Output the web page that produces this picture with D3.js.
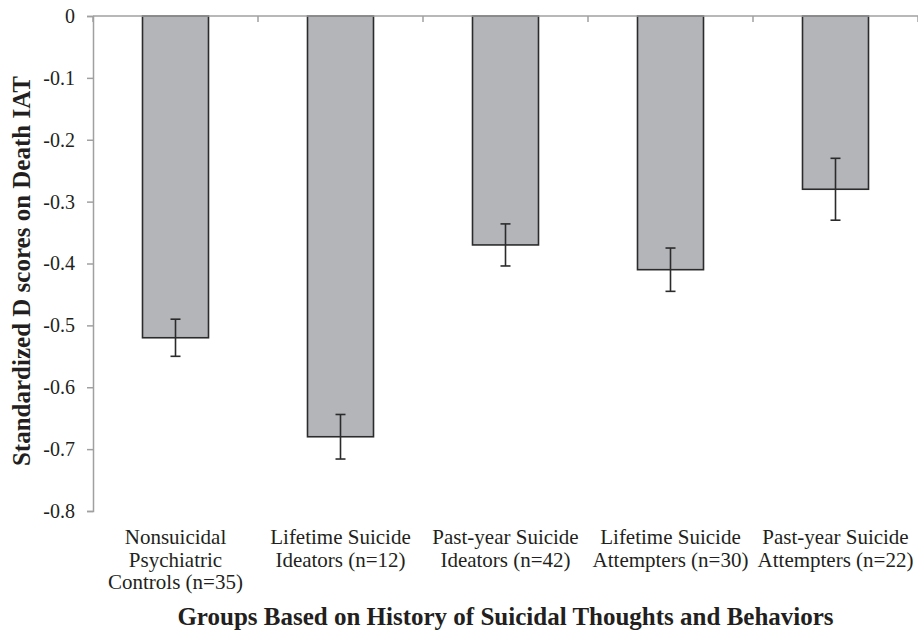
<!DOCTYPE html>
<html><head><meta charset="utf-8">
<script src="https://cdn.jsdelivr.net/npm/d3@7"></script>
<style>body{margin:0;background:#fff}svg{display:block}</style>
</head><body><svg id="c" width="918" height="635"></svg>
<script>
const categories = ["Nonsuicidal Psychiatric Controls (n=35)","Lifetime Suicide Ideators (n=12)","Past-year Suicide Ideators (n=42)","Lifetime Suicide Attempters (n=30)","Past-year Suicide Attempters (n=22)"];
const categoryLines = [["Nonsuicidal","Psychiatric","Controls (n=35)"],["Lifetime Suicide","Ideators (n=12)"],["Past-year Suicide","Ideators (n=42)"],["Lifetime Suicide","Attempters (n=30)"],["Past-year Suicide","Attempters (n=22)"]];
const values = [-0.52, -0.68, -0.37, -0.41, -0.28];
const errors = [0.03, 0.036, 0.034, 0.035, 0.05];
const yTicks = [0, -0.1, -0.2, -0.3, -0.4, -0.5, -0.6, -0.7, -0.8];
const yTitle = "Standardized D scores on Death IAT";
const xTitle = "Groups Based on History of Suicidal Thoughts and Behaviors";

const FONT = "'Liberation Serif', 'Times New Roman', Times, serif";
const TXT = "#231f20";
const svg = d3.select("#c");
const L = 93, R = 918, T = 16, B = 511;
const x = d3.scaleBand().domain(categories).range([L, R]).paddingInner(0.6).paddingOuter(0.3);
const y = d3.scaleLinear().domain([-0.8, 0]).range([B, T]);
const axisColor = "#a0a0a0";

// bars
svg.append("g").selectAll("rect").data(categories).join("rect")
  .attr("x", d => x(d)).attr("width", x.bandwidth())
  .attr("y", (d,i) => y(0)).attr("height", (d,i) => y(values[i]) - y(0))
  .attr("fill", "#b4b5b9").attr("stroke", "#2b2b2b").attr("stroke-width", 1.6);

// y axis
const yAxis = d3.axisLeft(y).tickValues(yTicks).tickSize(6).tickPadding(12)
  .tickFormat(d => d === 0 ? "0" : d3.format(".1f")(d).replace("−","-"));
const gy = svg.append("g").attr("transform", `translate(${L},0)`).call(yAxis)
  .attr("font-family", FONT).attr("font-size", 20);
gy.select(".domain").attr("stroke", axisColor).attr("stroke-width", 1.5);
gy.selectAll(".tick line").attr("stroke", axisColor).attr("stroke-width", 1.5);
gy.selectAll(".tick text").style("font-family", FONT).style("font-size", "20px").attr("fill", TXT);

// top zero axis (category axis)
const boundaries = d3.range(categories.length + 1).map(i => L + i * x.step());
svg.append("line").attr("x1", L).attr("x2", R).attr("y1", y(0)).attr("y2", y(0))
  .attr("stroke", axisColor).attr("stroke-width", 1.5);
svg.append("g").selectAll("line").data(boundaries).join("line")
  .attr("x1", d => d).attr("x2", d => d).attr("y1", y(0)).attr("y2", y(0) + 6)
  .attr("stroke", axisColor).attr("stroke-width", 1.5);

// error bars
const eg = svg.append("g").attr("stroke", "#2b2b2b").attr("stroke-width", 1.6);
categories.forEach((c, i) => {
  const cx = x(c) + x.bandwidth() / 2;
  const y1 = y(values[i] + errors[i]), y2 = y(values[i] - errors[i]);
  eg.append("line").attr("x1", cx).attr("x2", cx).attr("y1", y1).attr("y2", y2);
  eg.append("line").attr("x1", cx - 5).attr("x2", cx + 5).attr("y1", y1).attr("y2", y1);
  eg.append("line").attr("x1", cx - 5).attr("x2", cx + 5).attr("y1", y2).attr("y2", y2);
});

// category labels
categories.forEach((c, i) => {
  const t = svg.append("text").attr("text-anchor", "middle")
    .style("font-family", FONT).style("font-size", "21px").attr("fill", TXT);
  categoryLines[i].forEach((ln, j) => {
    t.append("tspan").attr("x", x(c) + x.bandwidth() / 2).attr("y", 544 + j * 22.5).text(ln);
  });
});

// titles
svg.append("text").attr("x", (L + R) / 2).attr("y", 625).attr("text-anchor", "middle")
  .style("font-family", FONT).style("font-size", "25px").style("font-weight", "bold").attr("fill", TXT).text(xTitle);
svg.append("text").attr("transform", `translate(30,271) rotate(-90)`).attr("text-anchor", "middle")
  .style("font-family", FONT).style("font-size", "25px").style("font-weight", "bold").attr("fill", TXT).text(yTitle);
</script></body></html>
